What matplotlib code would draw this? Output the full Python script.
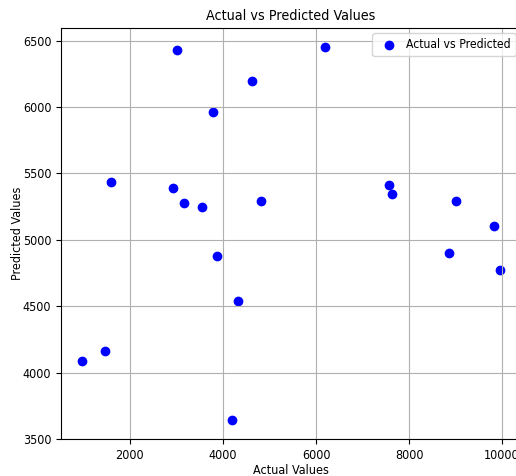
import matplotlib
matplotlib.use("Agg")
import matplotlib.pyplot as plt
from matplotlib import font_manager as fm

actual = [968, 1462, 1585, 2931, 3017, 3155, 3548, 3785, 3871, 4187,
          4316, 4630, 4824, 6187, 7570, 7623, 8860, 9011, 9821, 9957]
predicted = [4088, 4161, 5438, 5393, 6433, 5280, 5248, 5965, 4876, 3640,
             4536, 6200, 5291, 6455, 5410, 5343, 4898, 5291, 5103, 4771]

# pick a condensed face if one is installed
fam = ['DejaVu Sans']
stretch = 'normal'
try:
    p = fm.findfont(fm.FontProperties(family='DejaVu Sans', stretch='condensed'), fallback_to_default=False)
    if 'ondensed' in p:
        stretch = 'condensed'
    else:
        p2 = fm.findfont(fm.FontProperties(family='Liberation Sans Narrow'), fallback_to_default=False)
        if 'Narrow' in p2:
            fam = ['Liberation Sans Narrow', 'DejaVu Sans']
except Exception:
    pass
plt.rcParams['font.family'] = fam
plt.rcParams['font.stretch'] = stretch

fig = plt.figure(figsize=(5.16, 4.76), dpi=100)
ax = fig.add_axes([61/516, 37/476, (521-61)/516, (439-28)/476])
ax.scatter(actual, predicted, color='blue', s=36, label='Actual vs Predicted')
ax.set_title('Actual vs Predicted Values', fontsize=10.3)
ax.set_xlabel('Actual Values', fontsize=9, labelpad=2)
ax.set_ylabel('Predicted Values', fontsize=9, labelpad=-1)
ax.tick_params(labelsize=9)
ax.grid(True)
ax.legend(loc='upper right', fontsize=8.7, handletextpad=0.4, borderaxespad=0.45)
fig.savefig('out.png', dpi=100)
